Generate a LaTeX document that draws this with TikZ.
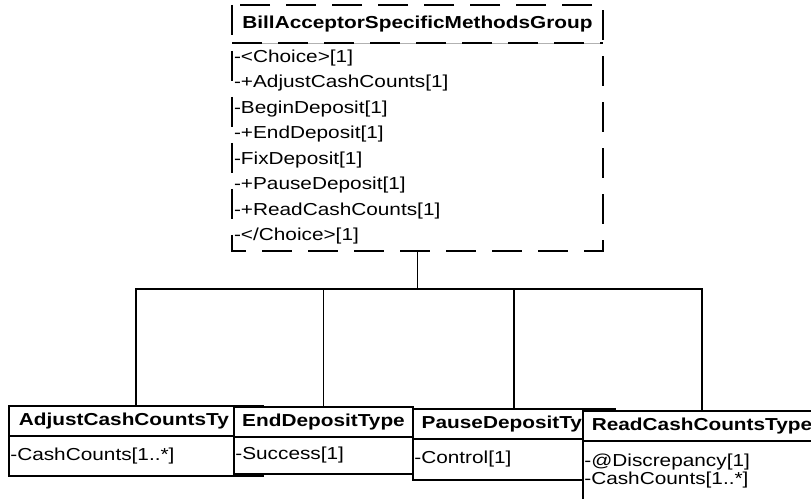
\documentclass[tikz,border=0pt]{standalone}
\usepackage{fontspec}
\setmainfont{Liberation Sans}[FakeStretch=1.2]
\usetikzlibrary{positioning}

\begin{document}
\begin{tikzpicture}[
  x=0.75pt, y=-0.75pt,
  font=\fontsize{13}{13.5}\selectfont,
  grouphead/.style={minimum width=278.25pt, minimum height=28.5pt, inner sep=0pt, outer sep=0pt, font=\fontsize{13}{13.5}\selectfont\bfseries},
  groupbody/.style={minimum width=278.25pt, minimum height=156pt, text width=275.25pt, inner xsep=1.5pt, inner ysep=0pt, outer sep=0pt, align=left, font=\fontsize{13}{19.07}\selectfont},
  outline/.style={line width=1.1pt, dash pattern=on 22.5pt off 12pt},
  typehead/.style={draw, line width=1.1pt, fill=white, minimum height=22.5pt, inner sep=0pt, outer sep=0pt, font=\fontsize{13}{13.5}\selectfont\bfseries},
  typebody/.style={draw, line width=1.1pt, fill=white, inner xsep=1pt, inner ysep=0pt, outer sep=0pt, align=left},
  link/.style={line width=0.8pt},
]
\useasboundingbox (0,0) rectangle (811,499);
\clip (0,0) rectangle (811,499);

% the group on top
\node[grouphead, anchor=north west] (group) at (232,5) {BillAcceptorSpecificMethodsGroup};
\node[groupbody, below=0pt of group] (groupbody) {-<Choice>[1]\\-+AdjustCashCounts[1]\\-BeginDeposit[1]\\-+EndDeposit[1]\\-FixDeposit[1]\\-+PauseDeposit[1]\\-+ReadCashCounts[1]\\-</Choice>[1]};
\draw[outline] (group.north west) rectangle (groupbody.south east);
\draw[gray!60, line width=0.4pt] (group.south west) -- (group.south east);
\draw[outline] (group.south west) -- (group.south east);

% the four types, each one drawn over the one before
\node[typehead, minimum width=190.5pt, anchor=north west] (adjust) at (9,406) {AdjustCashCountsTy\phantom{pe}};
\node[typebody, minimum width=190.5pt, text width=188.5pt, minimum height=30pt, below=0pt of adjust] (adjustbody) {-CashCounts[1..*]};

\node[typehead, minimum width=134.25pt, anchor=north west] (enddep) at (234,407) {EndDepositType};
\node[typebody, minimum width=134.25pt, text width=132.25pt, minimum height=27.75pt, below=0pt of enddep] (enddepbody) {-Success[1]};

\node[typehead, minimum width=151.5pt, anchor=north west] (pause) at (413,409) {PauseDepositTy\phantom{pe}};
\node[typebody, minimum width=151.5pt, text width=149.5pt, minimum height=30.75pt, below=0pt of pause] (pausebody) {-Control[1]};

\node[typehead, minimum width=178.5pt, anchor=north west] (readcash) at (583,411) {ReadCashCountsType};
\node[typebody, minimum width=178.5pt, text width=176.5pt, minimum height=45pt, below=0pt of readcash] (readcashbody) {-@Discrepancy[1]\\-CashCounts[1..*]};

% connectors
\coordinate (bus) at (417.5,289);
\draw[link] (groupbody.south) -- (bus);
\draw[link] (bus) -| (adjust.north);
\draw[link] (bus) -| (enddep.north);
\draw[link] (bus) -| (pause.north);
\draw[link] (bus) -| (readcash.north);
\end{tikzpicture}
\end{document}
